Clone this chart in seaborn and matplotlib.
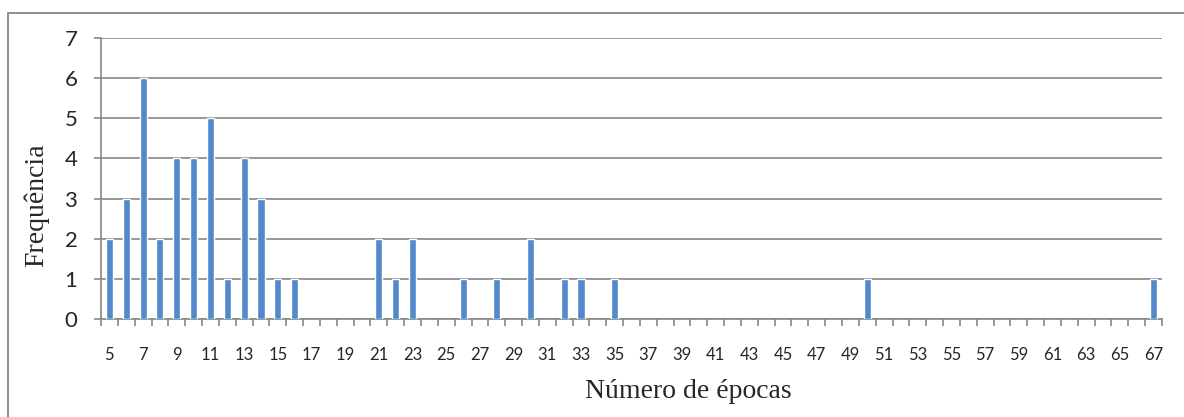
import numpy as np
import pandas as pd
import matplotlib
matplotlib.use("Agg")
import matplotlib.pyplot as plt
from matplotlib.patches import Rectangle
import seaborn as sns

# dados (épocas com frequência > 0)
epocas = [5, 6, 7, 8, 9, 10, 11, 12, 13, 14, 15, 16, 21, 22, 23, 26, 28, 30, 32, 33, 35, 50, 67]
frequencia = [2, 3, 6, 2, 4, 4, 5, 1, 4, 3, 1, 1, 2, 1, 2, 1, 1, 2, 1, 1, 1, 1, 1]
categorias = [str(e) for e in range(5, 68)]
rotulos_x = [str(e) for e in range(5, 68, 2)]
yticks = [0, 1, 2, 3, 4, 5, 6, 7]

df = pd.DataFrame({"epocas": [str(e) for e in epocas], "freq": frequencia})

sns.set_style("white")
plt.rcParams['font.family'] = ['Lato', 'DejaVu Sans']

cinza = "#878787"
azul = "#5189CB"

fig = plt.figure(figsize=(11.84, 4.17), dpi=100)
ax = fig.add_axes([101/1184, 1 - 319/417, (1162-101)/1184, (319-38)/417])

sns.barplot(data=df, x="epocas", y="freq", order=categorias, color=azul,
            width=0.42, saturation=1, ax=ax, zorder=3)

ax.set_ylim(0, 7)
ax.set_xlim(-0.5, len(categorias) - 0.5)

# linhas de grade
ax.set_yticks(yticks)
ax.set_yticklabels([str(v) for v in yticks], fontsize=16)
ax.yaxis.grid(True, color=cinza, linewidth=1.2, zorder=0)
ax.set_axisbelow(True)
ax.tick_params(axis="y", length=5, width=1.2, color=cinza, pad=12, direction="out", left=True)

# marcas nos limites das categorias, rótulos nas categorias ímpares
ax.set_xticks(np.arange(-0.5, len(categorias), 1))
ax.set_xticklabels([])
ax.set_xticks([categorias.index(r) for r in rotulos_x], minor=True)
ax.set_xticklabels(rotulos_x, minor=True, fontsize=12)
ax.tick_params(axis="x", which="major", length=5, width=1.2, color=cinza, direction="out", bottom=True)
ax.tick_params(axis="x", which="minor", length=0, pad=20)

for s in ["top", "right"]:
    ax.spines[s].set_visible(False)
for s in ["left", "bottom"]:
    ax.spines[s].set_color(cinza)
    ax.spines[s].set_linewidth(1.2)

ax.set_xlabel("Número de épocas", family="Liberation Serif", fontsize=20)
ax.xaxis.set_label_coords((688-101)/1061, (319-391)/281)
ax.xaxis.label.set_va("center")
ax.set_ylabel("Frequência", family="Liberation Serif", fontsize=20)
ax.yaxis.set_label_coords((36-101)/1061, (319-205)/281)
ax.yaxis.label.set_va("center")

# moldura externa
fig.patches.append(Rectangle((8/1184, -0.05), 1.1, 1 - 13/417 + 0.05,
                             transform=fig.transFigure, fill=False,
                             edgecolor=cinza, linewidth=1.3))

fig.savefig("out.png", dpi=100)
